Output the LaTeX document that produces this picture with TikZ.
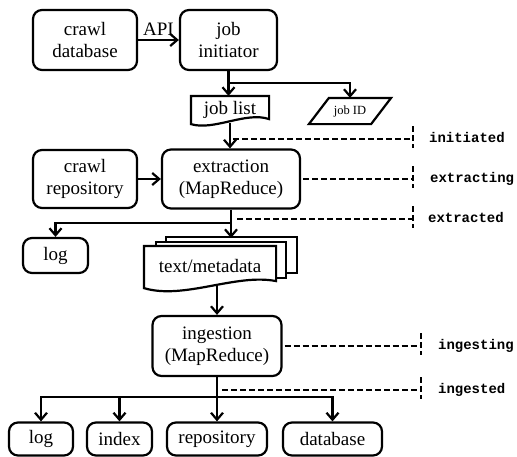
\documentclass[tikz,border=0pt]{standalone}
\usepackage{fontspec}
\setmainfont{Liberation Serif}
\setmonofont{Liberation Mono}
\usetikzlibrary{
    arrows.meta,
    positioning,
    calc
}

\begin{document}
\begin{tikzpicture}[
    x=1pt, y=-1pt,
    font=\fontsize{19}{22}\selectfont,
    line width=2.2pt,
    proc/.style={
      draw,
      rounded corners=9pt,
      align=center,
      inner sep=2pt
    },
    flow/.style={-{Straight Barb[length=7pt,width=12pt]}},
    status/.style={dash pattern=on 6pt off 3pt, line width=1.8pt},
    statelabel/.style={
      font=\fontsize{14}{16}\selectfont\ttfamily\bfseries,
      text height=8pt,
      text depth=1pt,
      inner sep=0pt
    }
  ]

  \useasboundingbox (0,0) rectangle (517,456);

  % job start {{{
  \node[proc, minimum width=104pt, minimum height=60pt] (crawldb) at (85,40)
    {crawl\\database};
  \node[proc, minimum width=97pt, minimum height=60pt] (initiator) at (228.5,40)
    {job\\initiator};
  \draw[flow] (crawldb.east) -- node[above, inner sep=3pt] (api) {API} (initiator.west);

  \node[minimum width=76pt, minimum height=22pt, inner sep=0pt] (joblist) at (230,110)
    {job list};
  \draw ([yshift=2pt]joblist.north west)
    -- ([yshift=-2pt]joblist.south west)
    .. controls +(23,7) and +(-23,-8) .. ([yshift=3pt]joblist.south east)
    -- ([yshift=2pt]joblist.north east) -- cycle;

  \node[
    minimum width=60pt,
    minimum height=24pt,
    inner sep=0pt,
    font=\fontsize{12.5}{14}\selectfont
  ] (jobid) at (350,111) {job ID};
  \draw ([xshift=-10pt]jobid.south west) -- ([xshift=-10pt]jobid.south east)
    -- ([xshift=10pt]jobid.north east) -- ([xshift=10pt]jobid.north west) -- cycle;

  \coordinate (split1) at (initiator.south |- 0,83);
  \draw[flow] (initiator.south) -- ([yshift=2pt]initiator.south |- joblist.north);
  \draw[flow] (split1) -| (jobid.north);
  % }}}

  % extraction {{{
  \node[proc, minimum width=104pt, minimum height=58pt] (crawlrepo) at (85,179)
    {crawl\\repository};
  \node[proc, minimum width=138pt, minimum height=59pt] (extraction) at (231,179)
    {extraction\\(MapReduce)};
  \draw[flow] (crawlrepo.east) -- (extraction.west);
  \draw[flow] ([yshift=-1pt]joblist.south) -- (joblist.south |- extraction.north);

  \node[proc, minimum width=65pt, minimum height=35pt] (log) at (55.5,255.5) {log};

  % stacked pages
  \node[minimum width=130pt, minimum height=37pt, inner sep=0pt] (textmeta) at (210,265.5) {};
  \draw[fill=white] ($(textmeta.north west)+(22,-9)$) rectangle ($(textmeta.south east)+(21,-12)$);
  \draw[fill=white] ($(textmeta.north west)+(12,-4)$) rectangle ($(textmeta.south east)+(10,-7)$);
  \draw[fill=white] (textmeta.north west)
    -- ([yshift=-3pt]textmeta.south west)
    .. controls +(40,12) and +(-40,-8) .. ([yshift=4pt]textmeta.south east)
    -- (textmeta.north east) -- cycle;
  \node at (textmeta) {text/metadata};

  \coordinate (split2) at (extraction.south |- 0,223);
  \draw[flow] (extraction.south) -- (extraction.south |- 0,238);
  \draw[flow] (split2) -| (log.north);
  % }}}

  % ingestion {{{
  \node[proc, minimum width=129pt, minimum height=60pt] (ingestion) at (217,346)
    {ingestion\\(MapReduce)};
  \draw[flow] (ingestion.north |- textmeta.south) -- (ingestion.north);

  \node[proc, minimum width=64pt, minimum height=33pt] (outlog) at (41,439) {log};
  \node[proc, minimum width=65pt, minimum height=33pt] (index) at (119.5,439) {index};
  \node[proc, minimum width=100pt, minimum height=33pt] (repo) at (217,439) {repository};
  \node[proc, minimum width=99pt, minimum height=33pt] (db) at (332.5,439) {database};

  \coordinate (split3) at (ingestion.south |- 0,397);
  \draw[flow] (ingestion.south) -- (repo.north);
  \draw[flow] (split3) -| (outlog.north);
  \draw[flow] (split3) -| (index.north);
  \draw[flow] (split3) -| (db.north);
  % }}}

  % status marks {{{
  \coordinate (initiatedtick) at (413,139);
  \coordinate (extractingtick) at (extraction.east -| 413,0);
  \coordinate (extractedtick) at (413,219);
  \coordinate (ingestingtick) at (ingestion.east -| 421,0);
  \coordinate (ingestedtick) at (421,390);

  \draw[status] ([xshift=3pt]joblist.south |- initiatedtick) -- (initiatedtick);
  \draw[status] ([xshift=2pt]extraction.east) -- (extractingtick);
  \draw[status] ([xshift=6pt]extraction.south |- extractedtick) -- (extractedtick);
  \draw[status] ([xshift=2pt]ingestion.east) -- (ingestingtick);
  \draw[status] ([xshift=5pt]ingestion.south |- ingestedtick) -- (ingestedtick);

  \foreach \t in {initiatedtick, extractingtick, extractedtick, ingestingtick, ingestedtick}
    \draw[status] ([yshift=13pt]\t) -- ([yshift=-9pt]\t);

  \node[statelabel, right=15pt of initiatedtick] (initiated) {initiated};
  \node[statelabel, right=16pt of extractingtick] (extracting) {extracting};
  \node[statelabel, right=14pt of extractedtick] (extracted) {extracted};
  \node[statelabel, right=16pt of ingestingtick] (ingesting) {ingesting};
  \node[statelabel, right=16pt of ingestedtick] (ingested) {ingested};
  % }}}

\end{tikzpicture}
\end{document}
